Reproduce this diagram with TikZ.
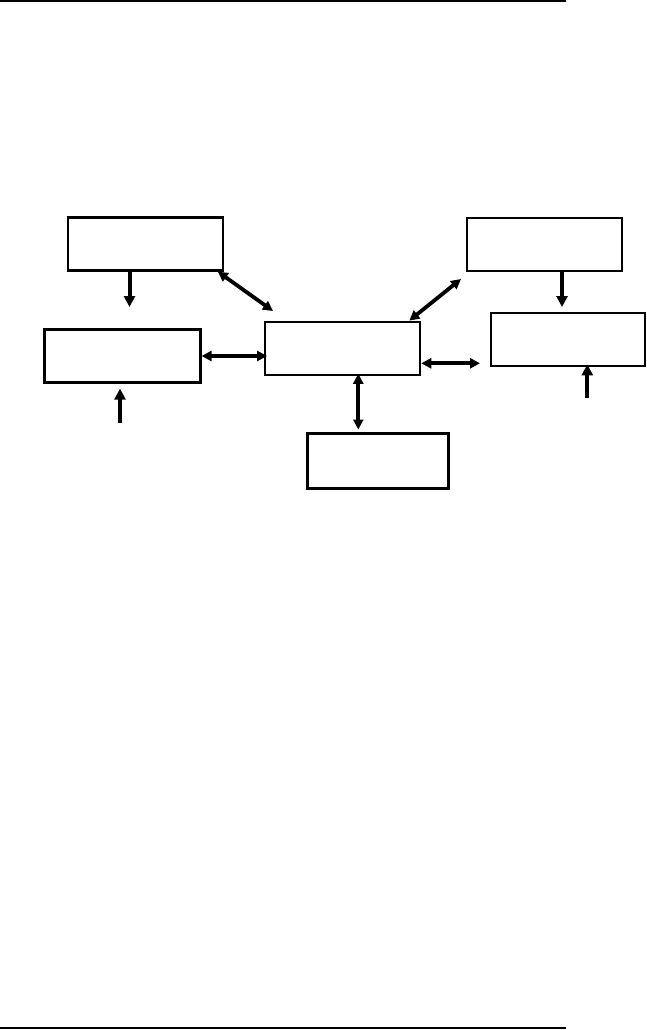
\documentclass[tikz,border=0pt]{standalone}
\usepackage{tikz}
\usetikzlibrary{positioning,calc,arrows.meta}
\tikzset{
  blk/.style={rectangle, draw=black, line width=2.2pt, minimum width=155pt, minimum height=53pt, inner sep=0pt},
  rulew/.style={draw=black, line width=2.2pt},
  onew/.style={draw=black, line width=4pt, -{Triangle[length=11pt,width=11pt]}},
  twow/.style={draw=black, line width=3.8pt, {Triangle[length=10pt,width=10pt]}-{Triangle[length=10pt,width=10pt]}}
}
\begin{document}
\begin{tikzpicture}[x=1pt, y=-1pt]
  \useasboundingbox (0,0) rectangle (646,1030);
  % rules
  \draw[rulew] (0,1) -- (566,1);
  \draw[rulew] (0,1028) -- (566,1028);
  % boxes
  \node[blk] (A) at (145.2,244) {};
  \node[blk, minimum width=156pt] (B) at (122.5,356) {};
  \node[blk] (C) at (342.7,348.2) {};
  \node[blk] (D) at (544.5,244.2) {};
  \node[blk, minimum width=154pt] (E) at (567.8,339.8) {};
  \node[blk, minimum width=141pt, minimum height=55pt] (F) at (378,461) {};
  % free ends
  \coordinate (adn) at (129.5,307);
  \coordinate (ac) at (273,311);
  \coordinate (bup) at (120,423);
  \coordinate (cd) at (461,279);
  \coordinate (ddn) at (562,307);
  \coordinate (ce) at (480,363.3);
  \coordinate (cf) at (358.3,429.5);
  \coordinate (eup) at (587.3,398);
  % arrows
  \draw[onew] (A.south -| adn) -- (adn);
  \draw[twow] ([xshift=-6pt]A.south east) -- (ac);
  \draw[twow] (B.east) -- ([xshift=3pt]B.east -| C.west);
  \draw[onew, shorten >=5pt] (bup) -- (bup |- B.south);
  \draw[twow] ([xshift=66.6pt]C.north) -- (cd);
  \draw[onew] (D.south -| ddn) -- (ddn);
  \draw[twow] (C.east |- ce) -- (ce);
  \draw[twow] ([yshift=2pt]C.south -| cf) -- (cf);
  \draw[onew, shorten >=-3pt] (eup) -- (eup |- E.south);
\end{tikzpicture}
\end{document}
